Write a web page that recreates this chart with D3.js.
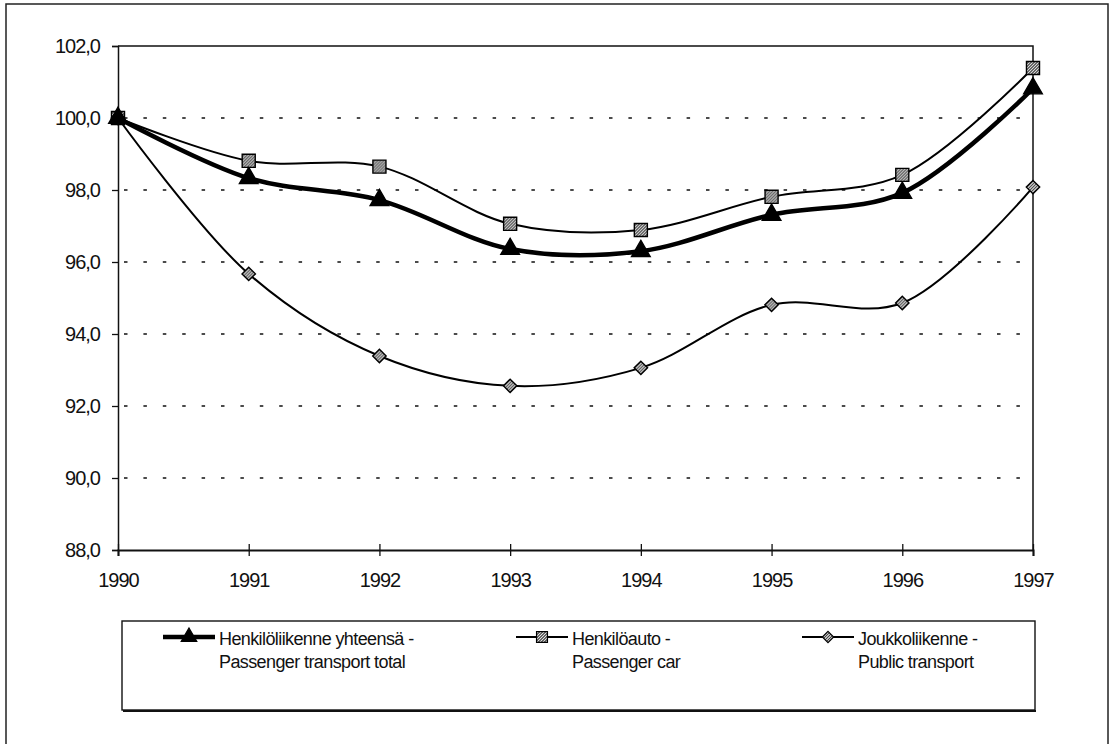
<!DOCTYPE html>
<html lang="en">
<head>
  <meta charset="UTF-8">
  <script src="https://d3js.org/d3.v7.min.js"></script>
  <style>
    body { margin: 0; background: #fff; }
    text { font-family: "Liberation Sans", Arial, sans-serif; fill: #111; }
  </style>
</head>
<body>
<script>
  // data (index 1990 = 100)
  const years = [1990, 1991, 1992, 1993, 1994, 1995, 1996, 1997];
  const total = [100.0, 98.33, 97.72, 96.36, 96.3, 97.31, 97.92, 100.82];
  const car = [100.0, 98.81, 98.65, 97.06, 96.89, 97.81, 98.42, 101.39];
  const publicTr = [100.0, 95.67, 93.39, 92.56, 93.06, 94.81, 94.86, 98.08];
  const yTicks = [88, 90, 92, 94, 96, 98, 100, 102];
  const seriesNames = [
    ["Henkilöliikenne yhteensä -", "Passenger transport total"],
    ["Henkilöauto -", "Passenger car"],
    ["Joukkoliikenne -", "Public transport"]
  ];

  const width = 1112, height = 744;
  const plot = { left: 118, right: 1033, top: 46, bottom: 550 };

  const svg = d3.select("body").append("svg")
    .attr("width", width)
    .attr("height", height);

  // hatch patterns for markers
  const defs = svg.append("defs");
  const pSq = defs.append("pattern")
    .attr("id", "hatchSq").attr("patternUnits", "userSpaceOnUse")
    .attr("width", 3).attr("height", 3);
  pSq.append("rect").attr("width", 3).attr("height", 3).attr("fill", "#666");
  pSq.append("path").attr("d", "M0,3 L3,0").attr("stroke", "#ddd").attr("stroke-width", 1);
  const pDi = defs.append("pattern")
    .attr("id", "hatchDi").attr("patternUnits", "userSpaceOnUse")
    .attr("width", 3).attr("height", 3);
  pDi.append("rect").attr("width", 3).attr("height", 3).attr("fill", "#bbb");
  pDi.append("path").attr("d", "M0,3 L3,0").attr("stroke", "#444").attr("stroke-width", 1);

  // outer frame
  svg.append("rect")
    .attr("x", 6).attr("y", 4)
    .attr("width", 1102).attr("height", 760)
    .attr("fill", "none").attr("stroke", "#222").attr("stroke-width", 1.5);

  const x = d3.scaleLinear().domain([1990, 1997]).range([plot.left, plot.right]);
  const y = d3.scaleLinear().domain([88, 102]).range([plot.bottom, plot.top]);

  // gridlines
  svg.append("g")
    .selectAll("line")
    .data(yTicks.filter(d => d > 88 && d < 102))
    .join("line")
    .attr("x1", plot.left + 6).attr("x2", plot.right - 10)
    .attr("y1", d => y(d)).attr("y2", d => y(d))
    .attr("stroke", "#111").attr("stroke-width", 1.4)
    .attr("stroke-dasharray", "3.5,15.9");

  // plot frame top / right
  svg.append("path")
    .attr("d", `M${plot.left},${plot.top}H${plot.right}V${plot.bottom}`)
    .attr("fill", "none").attr("stroke", "#111").attr("stroke-width", 1.5);

  const styleTicks = sel => sel.selectAll(".tick text")
    .attr("font-size", 20).attr("font-family", "Liberation Sans, Arial, sans-serif")
    .attr("fill", "#111").attr("letter-spacing", "-1");

  // y axis
  const yAxis = svg.append("g")
    .attr("transform", `translate(${plot.left},0)`)
    .call(d3.axisLeft(y).tickValues(yTicks).tickSize(6).tickPadding(12)
      .tickFormat(d => d3.format(".1f")(d).replace(".", ",")));
  yAxis.select(".domain").attr("stroke", "#111").attr("stroke-width", 1.5);
  yAxis.selectAll(".tick line").attr("stroke", "#111").attr("stroke-width", 1.3);
  styleTicks(yAxis);

  // x axis
  const xAxis = svg.append("g")
    .attr("transform", `translate(0,${plot.bottom})`)
    .call(d3.axisBottom(x).tickValues(years).tickSize(6).tickPadding(17)
      .tickFormat(d3.format("d")));
  xAxis.select(".domain").attr("stroke", "#111").attr("stroke-width", 2);
  xAxis.selectAll(".tick line").attr("y1", -6).attr("stroke", "#111").attr("stroke-width", 1.3);
  styleTicks(xAxis);

  const line = d3.line()
    .x((d, i) => x(years[i]))
    .y(d => y(d))
    .curve(d3.curveCatmullRom.alpha(0.5));

  // rotated square used as diamond marker
  const diamond = {
    draw(ctx, size) {
      const r = Math.sqrt(size) / Math.SQRT2;
      ctx.moveTo(0, -r); ctx.lineTo(r, 0); ctx.lineTo(0, r); ctx.lineTo(-r, 0); ctx.closePath();
    }
  };

  const series = [
    { values: total, width: 4.5, symbol: d3.symbolTriangle, size: 150, fill: "#000" },
    { values: car, width: 2, symbol: d3.symbolSquare, size: 170, fill: "url(#hatchSq)" },
    { values: publicTr, width: 2, symbol: diamond, size: 90, fill: "url(#hatchDi)" }
  ];

  // draw lines (public first so thick total sits on top)
  [2, 1, 0].forEach(k => {
    const s = series[k];
    svg.append("path")
      .datum(s.values)
      .attr("d", line)
      .attr("fill", "none")
      .attr("stroke", "#000")
      .attr("stroke-width", s.width)
      .attr("stroke-linejoin", "round");
    svg.append("g")
      .selectAll("path")
      .data(s.values)
      .join("path")
      .attr("transform", (d, i) => `translate(${x(years[i])},${y(d)})`)
      .attr("d", d3.symbol().type(s.symbol).size(s.size))
      .attr("fill", s.fill)
      .attr("stroke", "#000")
      .attr("stroke-width", 1.4);
  });

  // legend
  const lg = svg.append("g");
  lg.append("rect")
    .attr("x", 122).attr("y", 621)
    .attr("width", 913).attr("height", 89)
    .attr("fill", "#fff").attr("stroke", "#111").attr("stroke-width", 1.4);
  lg.append("line")
    .attr("x1", 123).attr("x2", 1036).attr("y1", 711).attr("y2", 711)
    .attr("stroke", "#111").attr("stroke-width", 2);

  const legendX = [163, 516, 802];
  series.forEach((s, k) => {
    const g = lg.append("g").attr("transform", `translate(${legendX[k]},637)`);
    g.append("line")
      .attr("x1", 0).attr("x2", 52).attr("y1", 0).attr("y2", 0)
      .attr("stroke", "#000").attr("stroke-width", s.width);
    g.append("path")
      .attr("transform", "translate(26,0)")
      .attr("d", d3.symbol().type(s.symbol).size(s.size * 0.7))
      .attr("fill", s.fill).attr("stroke", "#000").attr("stroke-width", 1.2);
    const t = g.append("text")
      .attr("x", 56).attr("y", 8)
      .attr("font-size", 18)
      .attr("letter-spacing", "-0.6");
    t.append("tspan").attr("x", 56).text(seriesNames[k][0]);
    t.append("tspan").attr("x", 56).attr("dy", 23).text(seriesNames[k][1]);
  });
</script>
</body>
</html>
